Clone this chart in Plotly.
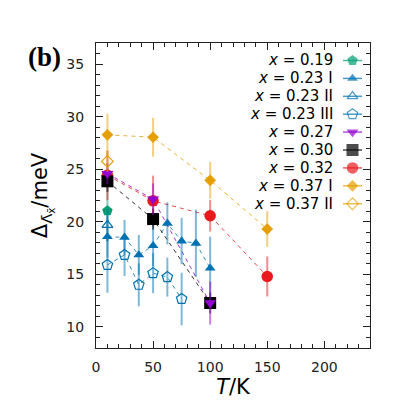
import plotly.graph_objects as go

# ---------------- data ----------------
T_019 = [10]
V_019 = [21.04]
E_019 = [2.9]

T_023I = [10, 25, 37.5, 50, 62.5, 75, 87.5, 100]
V_023I = [18.58, 18.52, 16.85, 17.73, 19.85, 18.17, 17.96, 15.59]
E_023I = [2.0, 1.65, 1.9, 1.95, 2.0, 2.2, 3.2, 3.0]

T_023II = [10]
V_023II = [19.69]
E_023II = [1.5]

T_023III = [10, 25, 37.5, 50, 62.5, 75]
V_023III = [15.9, 16.85, 14.01, 15.12, 14.74, 12.66]
E_023III = [2.65, 2.0, 2.05, 1.9, 1.85, 2.5]

T_027 = [10, 50, 100]
V_027 = [24.58, 22.15, 12.28]
E_027 = [1.0, 1.5, 2.05]

T_030 = [10, 50, 100]
V_030 = [23.85, 20.26, 12.28]
E_030 = [1.0, 1.0, 1.0]

T_032 = [10, 50, 100, 150]
V_032 = [24.42, 21.99, 20.57, 14.8]
E_032 = [2.35, 2.4, 1.5, 1.9]

T_037I = [10, 50, 100, 150]
V_037I = [28.27, 28.04, 23.94, 19.31]
E_037I = [2.0, 1.85, 1.75, 1.7]

T_037II = [10]
V_037II = [25.74]
E_037II = [1.0]

x_ticks = [0, 50, 100, 150, 200]
y_ticks = [10, 15, 20, 25, 30, 35]

labels = ["<i>x</i> = 0.19", "<i>x</i> = 0.23 I", "<i>x</i> = 0.23 II",
          "<i>x</i> = 0.23 III", "<i>x</i> = 0.27", "<i>x</i> = 0.30",
          "<i>x</i> = 0.32", "<i>x</i> = 0.37 I", "<i>x</i> = 0.37 II"]

GREEN = "#009E73"; BLUE = "#0072B2"; PURPLE = "#9400D3"; BLACK = "#000000"
RED = "#E8191C"; ORANGE = "#E69F00"

def rgba(hexc, a):
    h = hexc.lstrip("#")
    return "rgba(%d,%d,%d,%g)" % (int(h[0:2], 16), int(h[2:4], 16), int(h[4:6], 16), a)

# (T, V, E, color, symbol, size, filled, dashed line)
series = {
    "0.19": (T_019, V_019, E_019, GREEN, "pentagon", 11, True, False),
    "0.23I": (T_023I, V_023I, E_023I, BLUE, "triangle-up", 9.5, True, True),
    "0.23II": (T_023II, V_023II, E_023II, BLUE, "triangle-up-open", 9.5, False, False),
    "0.23III": (T_023III, V_023III, E_023III, BLUE, "pentagon-open", 11, False, True),
    "0.27": (T_027, V_027, E_027, PURPLE, "triangle-down", 10.5, True, True),
    "0.30": (T_030, V_030, E_030, BLACK, "square", 12, True, True),
    "0.32": (T_032, V_032, E_032, RED, "circle", 11.5, True, True),
    "0.37I": (T_037I, V_037I, E_037I, ORANGE, "diamond", 9, True, True),
    "0.37II": (T_037II, V_037II, E_037II, ORANGE, "diamond-open", 9, False, False),
}
legend_order = ["0.19", "0.23I", "0.23II", "0.23III", "0.27", "0.30", "0.32", "0.37I", "0.37II"]
draw_order = ["0.19", "0.23I", "0.23II", "0.23III", "0.32", "0.30", "0.27", "0.37I", "0.37II"]

fig = go.Figure()

# dashed connecting lines first
for k in draw_order:
    T, V, E, c, sym, sz, filled, dashed = series[k]
    if dashed:
        fig.add_trace(go.Scatter(x=T, y=V, mode="lines",
                                 line=dict(color=rgba(c, 0.8), width=1, dash="4px,4px"),
                                 showlegend=False, hoverinfo="skip"))

for k in draw_order:
    T, V, E, c, sym, sz, filled, dashed = series[k]
    fig.add_trace(go.Scatter(
        x=T, y=V, mode="markers",
        marker=dict(symbol=sym, size=sz, color=c, line=dict(color=c, width=1.2 if not filled else 0)),
        error_y=dict(type="data", array=E, visible=True, color=rgba(c, 0.5), thickness=2, width=0),
        showlegend=False, name=k))

# ---------------- custom legend (text left, symbol right) ----------------
top_px, bot_px, left_px, right_px = 43, 348, 96, 370
H = bot_px - top_px
W = right_px - left_px
row0, step = 60.5, 17.9
text_x = (335 - left_px) / W
mark_x = (352.5 - left_px) / W
half = 9.5 / W
for i, k in enumerate(legend_order):
    T, V, E, c, sym, sz, filled, dashed = series[k]
    yp = (bot_px - (row0 + i * step)) / H
    fig.add_annotation(x=text_x, y=yp, xref="paper", yref="paper", text=labels[i],
                       showarrow=False, xanchor="right", yanchor="middle",
                       font=dict(family="DejaVu Sans", size=15, color="black"))
    fig.add_trace(go.Scatter(
        x=[mark_x - half, mark_x, mark_x + half], y=[yp, yp, yp],
        xaxis="x2", yaxis="y2", mode="lines+markers",
        line=dict(color=rgba(c, 0.7), width=1.5),
        marker=dict(symbol=sym, size=[0, sz, 0], color=c,
                    line=dict(color=c, width=1.2 if not filled else 0)),
        showlegend=False, hoverinfo="skip", cliponaxis=False))

axis_common = dict(showline=True, linecolor="#222", linewidth=1.2, mirror="ticks",
                   ticks="inside", ticklen=7, tickwidth=1.2, tickcolor="#222",
                   showgrid=False, zeroline=False, automargin=False,
                   tickfont=dict(family="DejaVu Sans", size=14, color="#222"))

fig.update_layout(
    width=411, height=411,
    margin=dict(l=left_px, r=411 - right_px, t=top_px, b=411 - bot_px),
    paper_bgcolor="white", plot_bgcolor="white",
    showlegend=False,
    xaxis=dict(range=[0, 240], tickvals=x_ticks, ticklabelstandoff=6,
               minor=dict(dtick=10, tick0=0, ticks="inside", ticklen=3.5, tickcolor="#222", tickwidth=1),
               title=dict(text="<i>T</i>/K", font=dict(family="DejaVu Sans", size=21, color="black"), standoff=4),
               **axis_common),
    yaxis=dict(range=[8, 37], tickvals=y_ticks, ticklabelstandoff=8,
               minor=dict(dtick=1, tick0=0, ticks="inside", ticklen=3.5, tickcolor="#222", tickwidth=1),
               title=dict(text="Δ<sub>Λ̄<sub>x̄</sub></sub>/meV", font=dict(family="DejaVu Sans", size=21, color="black"), standoff=12),
               **axis_common),
    xaxis2=dict(range=[0, 1], overlaying="x", visible=False, fixedrange=True),
    yaxis2=dict(range=[0, 1], overlaying="y", visible=False, fixedrange=True),
)

fig.add_annotation(xref="paper", yref="paper",
                   x=(44 - left_px) / W, y=(bot_px - 57) / H,
                   xanchor="center", yanchor="middle", text="<b>(b)</b>",
                   showarrow=False, font=dict(family="Liberation Serif", size=27, color="black"))

fig.write_html("out.html", config={"displayModeBar": False},
               post_script="document.body.style.margin='0';document.body.style.padding='0';")
